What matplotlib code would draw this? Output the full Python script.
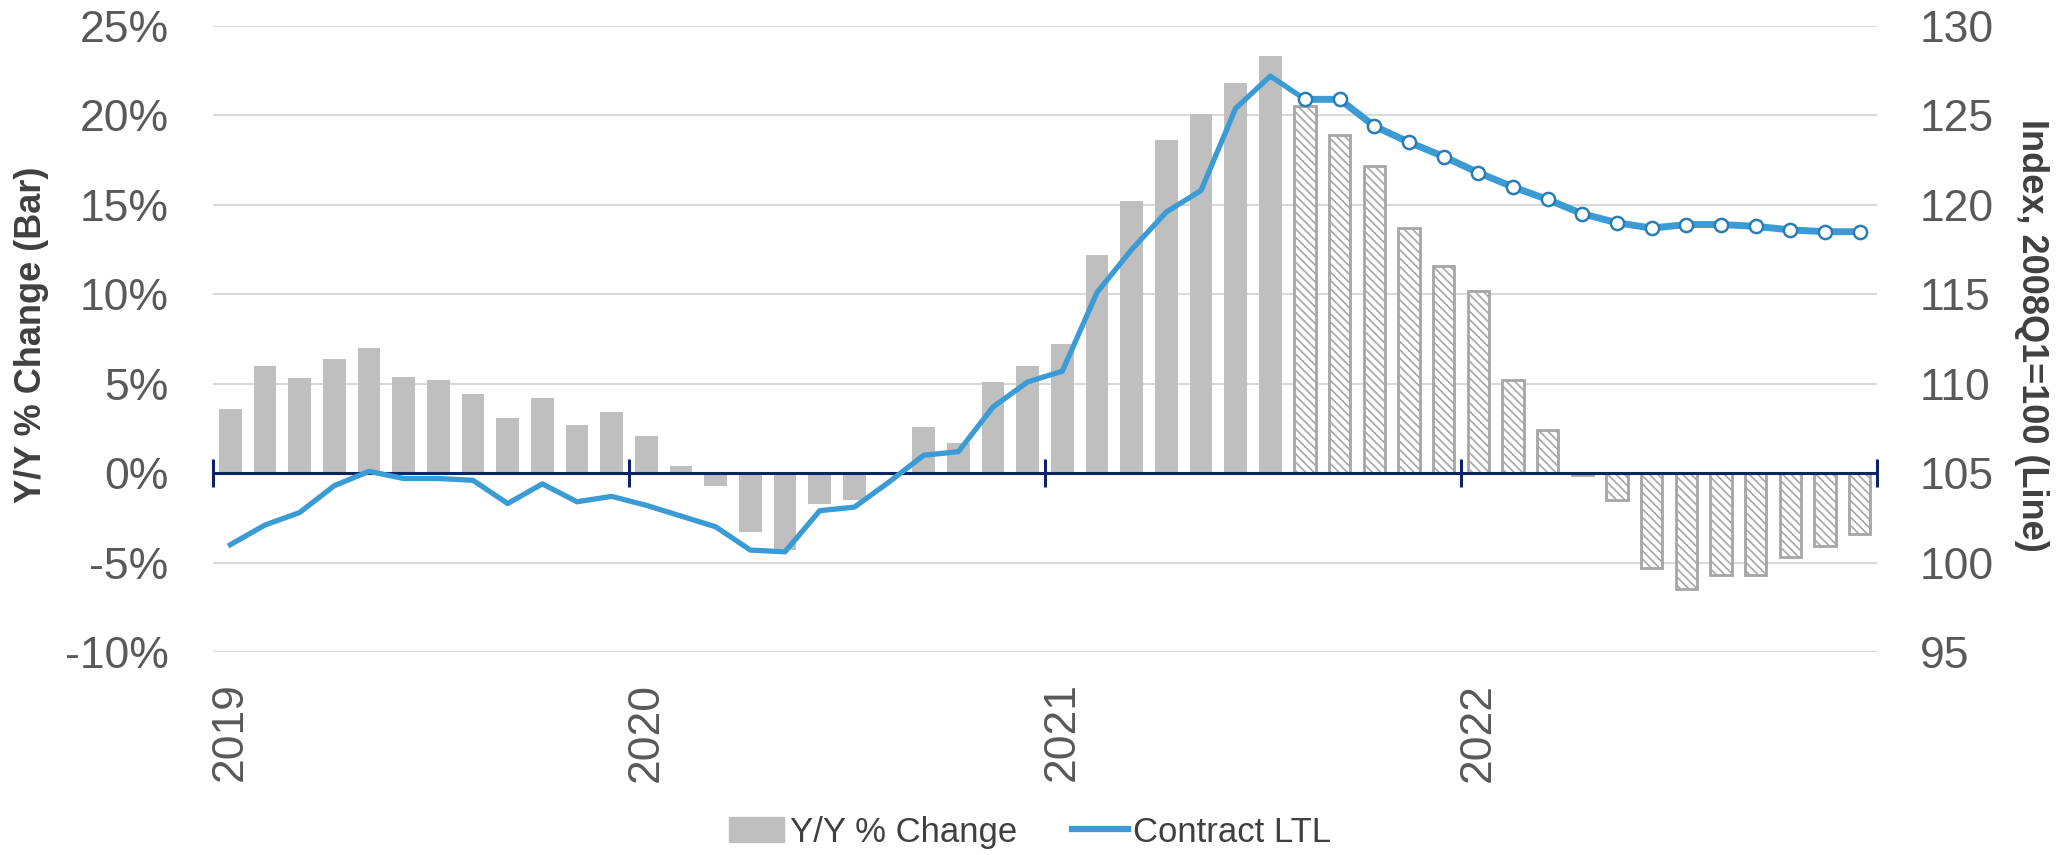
#======================================================================================
# load libraries
#======================================================================================
import numpy as np
import matplotlib
matplotlib.use('Agg')
import matplotlib.pyplot as plt
import matplotlib.patches as mpatches
import matplotlib.lines as mlines

plt.rcParams['font.family'] = ['Liberation Sans', 'DejaVu Sans']
plt.rcParams['hatch.linewidth'] = 1.2

#======================================================================================
# data (monthly, Jan 2019 - Dec 2022)
#======================================================================================
years = ['2019', '2020', '2021', '2022']
n_actual = 31   # Jan 2019 - Jul 2021 solid bars

yoy_change = [3.6, 6.0, 5.3, 6.4, 7.0, 5.4, 5.2, 4.4, 3.1, 4.2, 2.7, 3.4,
              2.1, 0.4, -0.7, -3.3, -4.3, -1.7, -1.5, 0.0, 2.6, 1.7, 5.1, 6.0,
              7.2, 12.2, 15.2, 18.6, 20.1, 21.8, 23.3, 20.5, 18.9, 17.2, 13.7, 11.6,
              10.2, 5.2, 2.4, -0.1, -1.5, -5.3, -6.5, -5.7, -5.7, -4.7, -4.1, -3.4]

ltl_index = [101.0, 102.1, 102.8, 104.3, 105.1, 104.7, 104.7, 104.6, 103.3, 104.4, 103.4, 103.7,
             103.2, 102.6, 102.0, 100.7, 100.6, 102.9, 103.1, 104.5, 106.0, 106.2, 108.7, 110.1,
             110.7, 115.1, 117.5, 119.6, 120.8, 125.4, 127.2, 125.9, 125.9, 124.4, 123.5, 122.7,
             121.8, 121.0, 120.3, 119.5, 119.0, 118.7, 118.9, 118.9, 118.8, 118.6, 118.5, 118.5]

x = np.arange(len(yoy_change))
yoy = np.array(yoy_change)
idx = np.array(ltl_index)

#======================================================================================
# plot
#======================================================================================
fig = plt.figure(figsize=(20.62, 8.55), dpi=100)
ax = fig.add_axes([213/2062, 1-652/855, (1877-213)/2062, (652-26)/855])
ax2 = ax.twinx()

# bars: actual solid, forecast hatched
ax.bar(x[:n_actual], yoy[:n_actual], width=0.66, color='#bfbfbf', zorder=2)
ax.bar(x[n_actual:], yoy[n_actual:], width=0.62, facecolor='white', edgecolor='#a6a6a6',
       hatch='\\\\\\\\', linewidth=2, zorder=2)

# zero axis with year ticks
ax.axhline(0, color='#0c2461', lw=2.2, zorder=3)
year_edges = np.arange(0, len(x) + 1, 12) - 0.5
ax.vlines(year_edges, -0.8, 0.8, color='#0c2461', lw=2.2, zorder=3, clip_on=False)

ax.set_xlim(-0.5, len(x) - 0.5)
ax.set_ylim(-10, 25)
ax.set_yticks(np.arange(-10, 26, 5))
ax.set_yticklabels([f'{v}%' for v in range(-10, 26, 5)])
ax.set_xticks(np.arange(0, len(x), 12))
ax.set_xticklabels(years, rotation=90, va='top', ha='center')
ax.grid(axis='y', color='#d9d9d9', lw=1.5, zorder=0)
ax.set_axisbelow(True)
for s in ax.spines.values():
    s.set_visible(False)
for s in ax2.spines.values():
    s.set_visible(False)
ax.tick_params(axis='y', length=0, pad=32, labelsize=32, labelcolor='#595959')
ax.tick_params(axis='x', length=0, pad=22, labelsize=32, labelcolor='#595959')

# line: actual thinner, forecast thicker with markers
ax2.plot(x[:n_actual + 1], idx[:n_actual + 1], color='#3a9bd5', lw=3.8, zorder=4)
ax2.plot(x[n_actual:], idx[n_actual:], color='#3a9bd5', lw=5, marker='o', markersize=9.5,
         markerfacecolor='white', markeredgecolor='#2a7db5', markeredgewidth=1.8, zorder=4)
ax2.set_ylim(95, 130)
ax2.set_yticks(np.arange(95, 131, 5))
ax2.tick_params(axis='y', length=0, pad=31, labelsize=32, labelcolor='#595959')

# axis titles
fig.text(32/2062, 1-335/855, 'Y/Y % Change (Bar)', rotation=90, ha='center', va='center',
         fontsize=26, fontweight='bold', color='#404040')
fig.text(2031/2062, 1-335/855, 'Index, 2008Q1=100 (Line)', rotation=-90, ha='center', va='center',
         fontsize=26, fontweight='bold', color='#404040')

# legend
h_bar = mpatches.Patch(color='#bfbfbf', label='Y/Y % Change')
h_line = mlines.Line2D([], [], color='#3a9bd5', lw=4.5, label='Contract LTL')
fig.legend(handles=[h_bar, h_line], loc='center', bbox_to_anchor=(1030/2062, 1-832/855), ncol=2,
           frameon=False, fontsize=25, labelcolor='#404040', handlelength=1.6, handletextpad=0.15,
           columnspacing=1.6)

fig.savefig('out.png', dpi=100)
